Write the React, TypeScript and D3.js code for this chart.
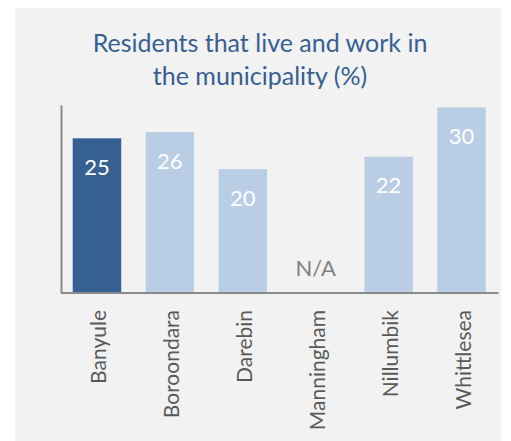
import React, { useEffect, useRef } from "react";
import * as d3 from "d3";

const councils = ["Banyule", "Boroondara", "Darebin", "Manningham", "Nillumbik", "Whittlesea"];
const residentsPct: (number | null)[] = [25, 26, 20, null, 22, 30];
const highlighted = ["Banyule"];
const titleLines = ["Residents that live and work in", "the municipality (%)"];
const missingLabel = "N/A";

export default function App() {
  const svgRef = useRef<SVGSVGElement>(null);

  useEffect(() => {
    const svg = d3.select(svgRef.current);
    svg.selectAll("*").remove();

    const H = 441;
    const font = "Lato, 'Open Sans', sans-serif";

    // grey panel behind everything
    svg
      .append("rect")
      .attr("x", 15)
      .attr("y", 8)
      .attr("width", 486)
      .attr("height", H - 8)
      .attr("fill", "#f2f2f2");

    // title
    svg
      .append("g")
      .selectAll("text")
      .data(titleLines)
      .join("text")
      .attr("x", 260)
      .attr("y", (d, i) => 52 + i * 32.5)
      .attr("text-anchor", "middle")
      .attr("font-family", font)
      .attr("font-size", 25)
      .attr("fill", "#376092")
      .text((d) => d);

    const rows = councils.map((c, i) => ({ name: c, value: residentsPct[i] }));

    const x = d3
      .scaleBand()
      .domain(councils)
      .range([60.5, 498])
      .paddingInner(0.335)
      .paddingOuter(0.1675);

    const y = d3.scaleLinear().domain([0, 30.4]).range([292.5, 105]);

    // bars
    svg
      .append("g")
      .selectAll("rect")
      .data(rows.filter((d) => d.value != null))
      .join("rect")
      .attr("x", (d) => x(d.name)!)
      .attr("y", (d) => y(d.value as number))
      .attr("width", x.bandwidth())
      .attr("height", (d) => y(0) - y(d.value as number))
      .attr("fill", (d) => (highlighted.includes(d.name) ? "#376092" : "#b9cde5"));

    // value labels inside bars
    svg
      .append("g")
      .selectAll("text")
      .data(rows)
      .join("text")
      .attr("x", (d) => x(d.name)! + x.bandwidth() / 2)
      .attr("y", (d) => (d.value == null ? y(0) - 17 : y(d.value) + 36.5))
      .attr("text-anchor", "middle")
      .attr("font-family", font)
      .attr("font-size", 22)
      .attr("fill", (d) => (d.value == null ? "#808080" : "#ffffff"))
      .text((d) => (d.value == null ? missingLabel : String(d.value)));

    // y axis line only
    const yAxis = svg
      .append("g")
      .attr("transform", `translate(61,0)`)
      .call(d3.axisLeft(y).tickValues([]).tickSizeOuter(0));
    yAxis.select(".domain").attr("stroke", "#898989").attr("stroke-width", 2);

    // x axis with rotated category names
    const xAxis = svg
      .append("g")
      .attr("transform", `translate(0,${y(0)})`)
      .call(d3.axisBottom(x).tickSize(0).tickSizeOuter(0));
    xAxis.select(".domain").attr("stroke", "#898989").attr("stroke-width", 2);
    xAxis
      .selectAll("text")
      .attr("transform", "rotate(-90)")
      .attr("x", -17.5)
      .attr("y", 0)
      .attr("dy", 9)
      .attr("text-anchor", "end")
      .attr("font-family", font)
      .attr("font-size", 21)
      .attr("fill", "#595959");
  }, []);

  return (
    <svg
      ref={svgRef}
      width={511}
      height={441}
      style={{ position: "absolute", left: 0, top: 0 }}
    />
  );
}
